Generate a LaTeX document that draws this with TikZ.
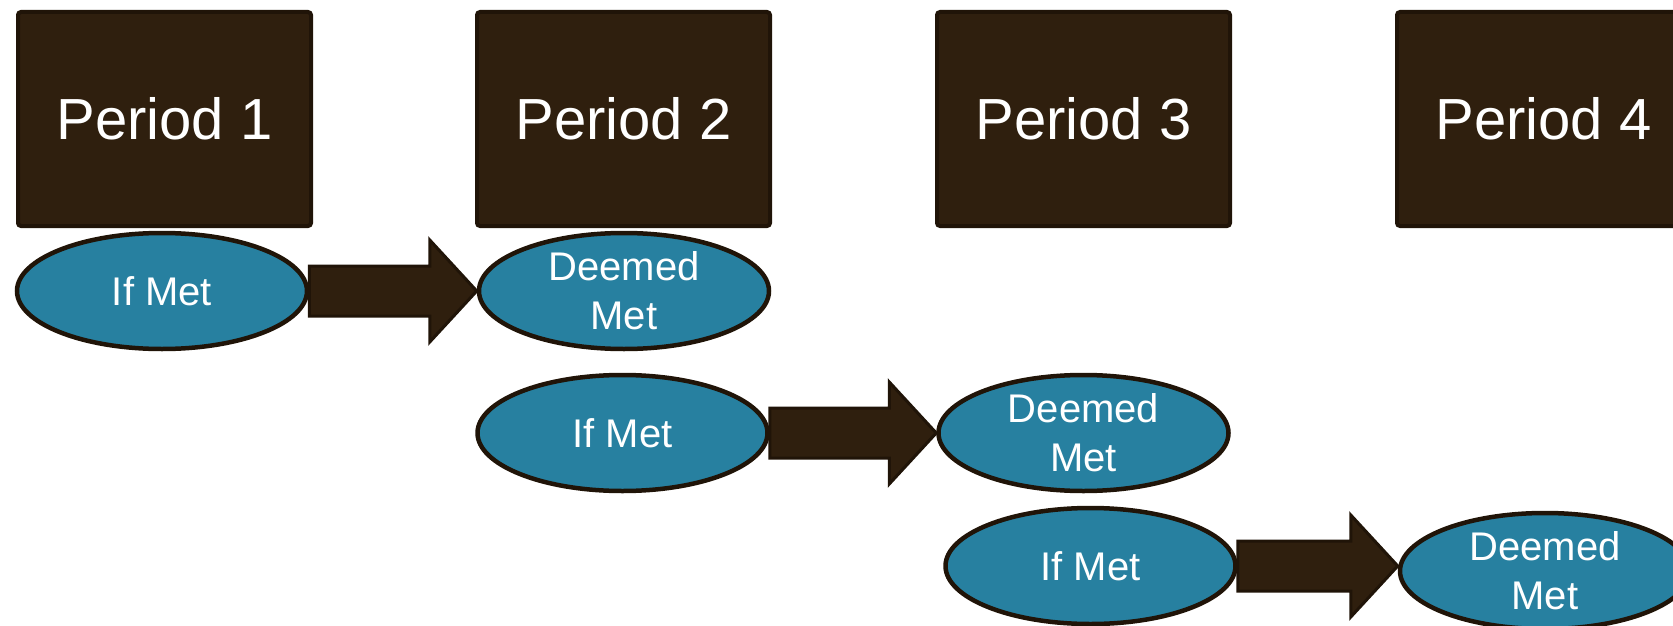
\documentclass[tikz,border=0pt]{standalone}
\usepackage{fontspec}
\setmainfont{Liberation Sans}
\usetikzlibrary{shapes.geometric,calc}
\definecolor{boxbrown}{RGB}{47,31,14}
\definecolor{edgebrown}{RGB}{32,20,8}
\definecolor{tealfill}{RGB}{39,128,160}
\tikzset{
  period/.style={draw=edgebrown, line width=4pt, fill=boxbrown, rounded corners=3pt,
    minimum width=293pt, minimum height=214pt, inner sep=0pt,
    text=white, font=\fontsize{58}{66}\selectfont},
  state/.style={ellipse, draw=edgebrown, line width=4.5pt, fill=tealfill,
    minimum width=290pt, minimum height=116pt, inner sep=0pt,
    text=white, align=center, font=\fontsize{40}{49}\selectfont},
  blockarrow/.style={draw=edgebrown, line width=3pt, fill=boxbrown, line join=miter}
}
% horizontal block arrow from the east side of #1 to the west side of #2,
% shifted down by #3
\newcommand{\blockarrow}[3]{%
  \draw[blockarrow, yshift=#3] ($(#1.east)+(0,-25)$) -- ($(#2.west |- #1.east)+(-47,-25)$)
    -- ($(#2.west |- #1.east)+(-47,-51)$) -- (#2.west |- #1.east)
    -- ($(#2.west |- #1.east)+(-47,51)$) -- ($(#2.west |- #1.east)+(-47,25)$)
    -- ($(#1.east)+(0,25)$) -- cycle;}
\begin{document}
\begin{tikzpicture}[x=1pt,y=-1pt]
  \useasboundingbox (0,0) rectangle (1673,626);
  \clip (0,0) rectangle (1673,626);

  % period headers
  \node[period] (p1) at (164.5,119) {Period 1};
  \node[period] (p2) at (623.5,119) {Period 2};
  \node[period] (p3) at (1083.5,119) {Period 3};
  \node[period] (p4) at (1543.5,119) {Period 4};

  % outcome states
  \node[state] (m1) at (162,291) {If Met};
  \node[state] (d2) at (624,291) {Deemed\\Met};
  \node[state] (m2) at (622.5,433) {If Met};
  \node[state] (d3) at (1083.5,433) {Deemed\\Met};
  \node[state] (m3) at (1090.5,566) {If Met};
  \node[state] (d4) at (1545,571) {Deemed\\Met};

  % carry-over arrows
  \blockarrow{m1}{d2}{-3pt}
  \blockarrow{m2}{d3}{0pt}
  \blockarrow{m3}{d4}{0pt}
\end{tikzpicture}
\end{document}
